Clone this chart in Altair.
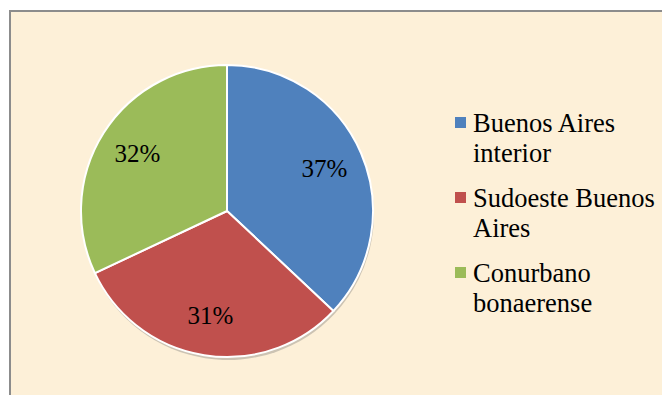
import altair as alt
import pandas as pd

categories = ["Buenos Aires interior", "Sudoeste Buenos Aires", "Conurbano bonaerense"]
legend_lines = [["Buenos Aires", "interior"], ["Sudoeste Buenos", "Aires"], ["Conurbano", "bonaerense"]]
values = [37, 31, 32]
pct_labels = ["37%", "31%", "32%"]
colors = ["#4F81BD", "#C0504D", "#9BBB59"]

df = pd.DataFrame({
    "cat": categories,
    "value": values,
    "label": pct_labels,
    "order": list(range(len(categories))),
    "lines": legend_lines,
})

CX, CY, R = 217, 200, 146
FONT = "'Times New Roman', 'Liberation Serif', serif"

theta = alt.Theta("value:Q", stack=True)
order = alt.Order("order:Q")
color = alt.Color("cat:N", scale=alt.Scale(domain=categories, range=colors), legend=None)
yleg = alt.Y("cat:N", scale=alt.Scale(domain=categories, range=[111.5, 261.5], padding=0), axis=None)

base = alt.Chart(df)

shadow = base.mark_arc(radius=R, color="#6f6f6f", opacity=0.35).encode(
    theta=theta, order=order, x=alt.value(CX + 1), y=alt.value(CY + 3)
)

pie = base.mark_arc(radius=R, stroke="white", strokeWidth=2).encode(
    theta=theta, order=order, color=color, x=alt.value(CX), y=alt.value(CY)
)

pct = base.mark_text(radius=106, font=FONT, fontSize=25, color="black").encode(
    theta=theta, order=order, text="label:N", x=alt.value(CX), y=alt.value(CY)
)

squares = base.mark_square(size=121, opacity=1, filled=True).encode(
    y=yleg, x=alt.value(450.5), color=color
)

leg_text = base.mark_text(
    align="left", baseline="top", font=FONT, fontSize=26.5, lineHeight=30, dy=-12, color="black"
).encode(y=yleg, x=alt.value(463), text="lines")

chart = alt.layer(shadow, pie, pct, squares, leg_text).properties(
    width=656,
    height=388,
    autosize=alt.AutoSizeParams(type="none"),
    padding={"left": 2, "top": 3, "right": -4, "bottom": -4},
    background="white",
).configure_view(
    fill="#FDF0D8", stroke="#8C8C8C", strokeWidth=2
).configure_text(font=FONT)

chart.save("out.html", embed_options={"renderer": "svg", "actions": False})
